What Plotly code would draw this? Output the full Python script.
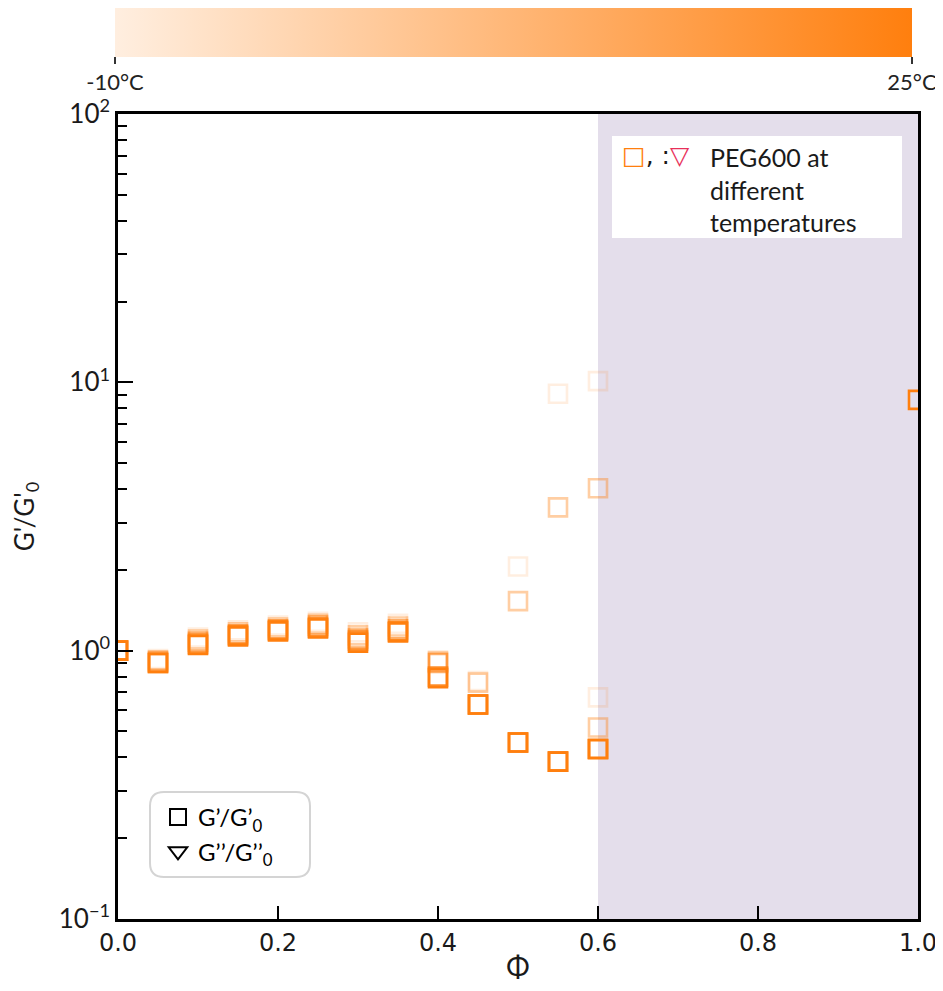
import plotly.graph_objects as go

# ---------------- data ----------------
temps = [-10, 0, 10, 20, 25]                     # °C (colour scale)
phi = [0.0, 0.05, 0.10, 0.15, 0.20, 0.25, 0.30, 0.35, 0.40, 0.45, 0.50, 0.55, 0.60, 1.0]
g_m10 = [1.0, 0.93, 1.12, 1.19, 1.24, 1.28, 1.17, 1.26, 0.92, 0.77, 2.06, 9.07, 10.1, None]
g_0   = [1.0, 0.92, 1.10, 1.17, 1.22, 1.26, 1.14, 1.23, 0.91, 0.76, 1.53, 3.42, 4.03, None]
g_10  = [1.0, 0.91, 1.08, 1.15, 1.20, 1.24, 1.11, 1.20, 0.90, 0.63, 0.455, 0.386, 0.43, None]
g_20  = [1.0, 0.90, 1.06, 1.14, 1.19, 1.22, 1.09, 1.18, 0.80, 0.63, 0.455, 0.386, 0.43, None]
g_25  = [1.0, 0.90, 1.05, 1.13, 1.18, 1.21, 1.07, 1.17, 0.79, 0.63, 0.455, 0.386, 0.43, 8.6]
# additional repeat measurements at phi = 0.6
phi_extra = [0.6, 0.6]
g_extra = [0.67, 0.517]
temp_extra = [-10, 0]

x_ticks = [0.0, 0.2, 0.4, 0.6, 0.8, 1.0]
y_tickvals = [0.1, 1, 10, 100]
y_ticktext = ["10<sup>\u22121</sup>", "10<sup>0</sup>", "10<sup>1</sup>", "10<sup>2</sup>"]
cbar_tickvals = [-10, 25]
cbar_ticktext = ["-10\u00b0C", "25\u00b0C"]
shade_range = [0.6, 1.0]

# ---------------- build point lists ----------------
series = [g_m10, g_0, g_10, g_20, g_25]
xs, ys, cs = list(phi_extra), list(g_extra), list(temp_extra)
for T, g in zip(temps, series):
    for p, v in zip(phi, g):
        if v is not None:
            xs.append(p); ys.append(v); cs.append(T)

ORANGE = "255,127,14"
colorscale = [[0, f"rgba({ORANGE},0.13)"], [1, f"rgba({ORANGE},1.0)"]]

OFF = 8  # page body margin of the html page
W, H = 943 - OFF, 991 - 2 * OFF
L, T_ = 118 - OFF, 114 - OFF
PW, PH = 800, 805
R = W - L - PW
B = H - T_ - PH

def px_x(p):  # page pixel -> paper fraction
    return (p - OFF - L) / PW

def px_y(p):
    return (T_ + PH - (p - OFF)) / PH

fig = go.Figure()

fig.add_trace(go.Scatter(
    x=xs, y=ys, mode="markers", showlegend=False, cliponaxis=True,
    marker=dict(
        symbol="square-open", size=18, line=dict(width=2.6),
        color=cs, colorscale=colorscale, cmin=-10, cmax=25,
        showscale=True,
        colorbar=dict(
            orientation="h", x=px_x(513.5), xanchor="center",
            y=px_y(7), yanchor="top",
            lenmode="pixels", len=797, thicknessmode="pixels", thickness=50,
            xpad=0, ypad=0, outlinewidth=0,
            tickvals=cbar_tickvals, ticktext=cbar_ticktext,
            ticks="outside", ticklen=7, tickwidth=1.5, tickcolor="#333",
            tickfont=dict(family="Lato", size=22, color="#222"),
        ),
    ),
))

# legend entries
fig.add_trace(go.Scatter(
    x=[None], y=[None], mode="markers", name="G\u2019/G\u2019<sub>0</sub>",
    marker=dict(symbol="square-open", size=16, color="black", line=dict(width=2)),
))
fig.add_trace(go.Scatter(
    x=[None], y=[None], mode="markers", name="G\u2019\u2019/G\u2019\u2019<sub>0</sub>",
    marker=dict(symbol="triangle-down-open", size=16, color="black", line=dict(width=2)),
))

# shaded region
fig.add_shape(type="rect", xref="x", yref="paper", x0=shade_range[0], x1=shade_range[1],
              y0=0, y1=1, fillcolor="#E4DEEB", line=dict(width=0), layer="below")
# white info box
fig.add_shape(type="rect", xref="paper", yref="paper",
              x0=px_x(612), x1=px_x(902), y0=px_y(238), y1=px_y(136),
              fillcolor="white", line=dict(width=0), layer="below")
# rounded legend box
x0, x1 = px_x(150), px_x(310)
y0, y1 = px_y(877), px_y(792)
rx, ry = 14 / PW, 14 / PH
path = (f"M {x0+rx},{y0} L {x1-rx},{y0} Q {x1},{y0} {x1},{y0+ry} "
        f"L {x1},{y1-ry} Q {x1},{y1} {x1-rx},{y1} L {x0+rx},{y1} "
        f"Q {x0},{y1} {x0},{y1-ry} L {x0},{y0+ry} Q {x0},{y0} {x0+rx},{y0} Z")
fig.add_shape(type="path", xref="paper", yref="paper", path=path,
              fillcolor="rgba(255,255,255,0)", line=dict(color="#d4d4d4", width=2), layer="above")

fig.add_annotation(
    xref="paper", yref="paper", x=px_x(620), y=px_y(155), xanchor="left", yanchor="middle",
    text='<span style="color:#ff7f0e">\u25a1</span>, :<span style="color:#e8305a">\u25bd</span>',
    showarrow=False, font=dict(family="DejaVu Sans", size=25, color="#1a1a1a"),
)
fig.add_annotation(
    xref="paper", yref="paper", x=px_x(708), y=px_y(140), xanchor="left", yanchor="top",
    text="PEG600 at<br>different<br>temperatures", align="left",
    showarrow=False, font=dict(family="Lato", size=25, color="#1a1a1a"),
)

axis_common = dict(showline=True, linecolor="black", linewidth=2.5, mirror=True,
                   ticks="inside", tickcolor="black", tickwidth=2, showgrid=False,
                   zeroline=False)

fig.update_layout(
    width=W, height=H,
    margin=dict(l=L, r=R, t=T_, b=B, autoexpand=False),
    paper_bgcolor="white", plot_bgcolor="white",
    font=dict(family="Lato", color="#1a1a1a"),
    xaxis=dict(range=[0, 1], tickvals=x_ticks, tickformat=".1f", ticklen=13,
               tickfont=dict(family="DejaVu Sans", size=24, color="#1a1a1a"),
               title=dict(text="\u03a6", font=dict(family="Lato", size=28), standoff=6),
               **axis_common),
    yaxis=dict(type="log", range=[-1, 2], tickvals=y_tickvals, ticktext=y_ticktext,
               ticklen=15,
               tickfont=dict(family="Lato", size=26, color="#1a1a1a"),
               minor=dict(ticks="inside", ticklen=9, tickwidth=1.5, tickcolor="black",
                          dtick="D1", showgrid=False),
               title=dict(text="G'/G'<sub>0</sub>", font=dict(family="Lato", size=26), standoff=22),
               **axis_common),
    legend=dict(x=px_x(158), y=px_y(795), xanchor="left", yanchor="top",
                bgcolor="rgba(0,0,0,0)", borderwidth=0,
                font=dict(family="Lato", size=24, color="black"),
                tracegroupgap=0),
)

fig.write_html("out.html")
